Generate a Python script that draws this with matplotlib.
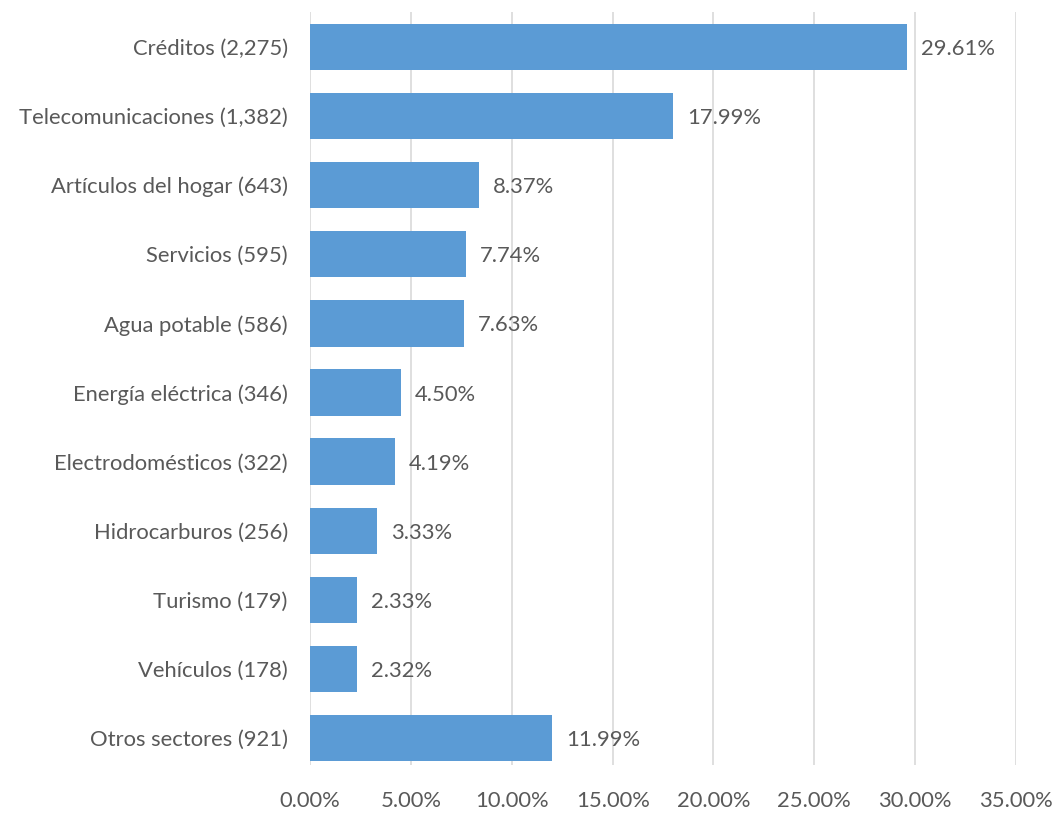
import matplotlib.pyplot as plt
import numpy as np

categories = ["Créditos (2,275)", "Telecomunicaciones (1,382)", "Artículos del hogar (643)",
              "Servicios (595)", "Agua potable (586)", "Energía eléctrica (346)",
              "Electrodomésticos (322)", "Hidrocarburos (256)", "Turismo (179)",
              "Vehículos (178)", "Otros sectores (921)"]
percentages = [29.61, 17.99, 8.37, 7.74, 7.63, 4.50, 4.19, 3.33, 2.33, 2.32, 11.99]
xticks = [0, 5, 10, 15, 20, 25, 30, 35]

plt.rcParams['font.family'] = ['Lato', 'DejaVu Sans']
text_color = '#595959'
fs = 15.8

fig = plt.figure(figsize=(10.56, 8.16), dpi=100)
ax = fig.add_axes([0.2936, 0.0625, 0.6686, 0.9228])

y = np.arange(len(categories))
bars = ax.barh(y, percentages, height=0.67, color='#5B9BD5', zorder=3)

for b, v in zip(bars, percentages):
    ax.annotate("{:.2f}%".format(v), (b.get_width(), b.get_y() + b.get_height() / 2),
                xytext=(10, -1.5), textcoords='offset points', va='center', ha='left',
                fontsize=fs, color=text_color)

ax.set_xlim(0, 35)
ax.set_ylim(10.39, -0.506)
ax.set_xticks(xticks)
ax.set_xticklabels(["{:.2f}%".format(t) for t in xticks], fontsize=fs, color=text_color)
ax.set_yticks(y)
ax.set_yticklabels(categories, fontsize=fs, color=text_color)
ax.tick_params(axis='both', length=0)
ax.tick_params(axis='x', pad=19)
ax.tick_params(axis='y', pad=16)
ax.grid(axis='x', color='#D9D9D9', linewidth=1.2, zorder=0)
for s in ax.spines.values():
    s.set_visible(False)

fig.savefig("out.png", dpi=100)
